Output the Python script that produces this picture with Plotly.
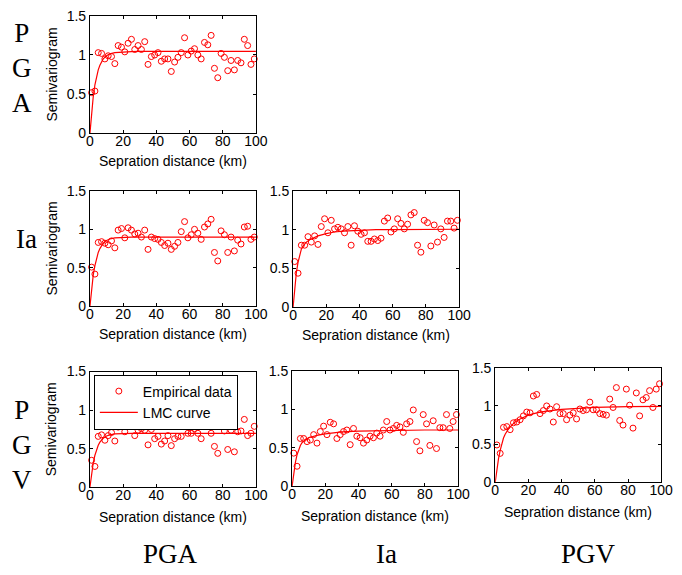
import plotly.graph_objects as go

W, H = 682, 575

# ---------------- data ----------------
dist = list(range(1, 100, 2))

pga_pga = [0.52, 0.54, 1.03, 1.02, 0.95, 0.99, 0.98, 0.89, 1.12, 1.10,
           1.04, 1.15, 1.20, 1.07, 1.12, 1.07, 1.17, 0.88, 0.98, 1.00,
           1.03, 0.92, 0.95, 0.95, 0.79, 0.91, 0.97, 1.03, 1.22, 1.00,
           1.05, 1.08, 1.00, 0.95, 1.16, 1.13, 1.25, 0.83, 0.71, 1.02,
           0.97, 0.80, 0.93, 0.81, 0.93, 0.90, 1.20, 1.12, 0.88, 0.95]
ia_pga = [0.51, 0.42, 0.83, 0.84, 0.82, 0.80, 0.85, 0.76, 0.99, 1.01,
          0.89, 1.02, 0.99, 0.94, 0.95, 0.90, 0.99, 0.74, 0.90, 0.88,
          0.87, 0.83, 0.79, 0.82, 0.74, 0.78, 0.83, 0.97, 1.10, 0.89,
          0.93, 1.00, 0.95, 0.87, 1.03, 1.07, 1.13, 0.70, 0.59, 0.98,
          0.93, 0.70, 0.90, 0.72, 0.86, 0.81, 1.03, 1.04, 0.87, 0.90]
ia_ia = [0.59, 0.44, 0.80, 0.80, 0.91, 0.84, 0.92, 0.81, 1.04, 1.14,
         0.96, 1.12, 1.01, 1.03, 1.01, 0.96, 1.04, 0.80, 1.05, 0.98,
         0.94, 0.96, 0.85, 0.85, 0.88, 0.86, 0.89, 1.11, 1.15, 0.97,
         1.01, 1.14, 1.08, 1.01, 1.07, 1.19, 1.22, 0.80, 0.71, 1.12,
         1.09, 0.79, 1.06, 0.84, 1.01, 0.90, 1.11, 1.11, 1.02, 1.12]
pgv_pga = [0.35, 0.27, 0.66, 0.68, 0.61, 0.67, 0.71, 0.60, 0.78, 0.80,
           0.72, 0.87, 0.89, 0.67, 0.74, 0.76, 0.74, 0.55, 0.75, 0.63,
           0.66, 0.56, 0.60, 0.67, 0.54, 0.63, 0.66, 0.66, 0.81, 0.70,
           0.70, 0.76, 0.70, 0.63, 0.82, 0.81, 0.70, 0.53, 0.44, 0.83,
           0.73, 0.49, 0.74, 0.46, 0.72, 0.73, 0.88, 0.67, 0.70, 0.79]
pgv_ia = [0.43, 0.26, 0.62, 0.62, 0.58, 0.60, 0.67, 0.56, 0.71, 0.78,
          0.67, 0.83, 0.81, 0.62, 0.67, 0.71, 0.73, 0.54, 0.75, 0.65,
          0.63, 0.56, 0.60, 0.65, 0.63, 0.69, 0.65, 0.73, 0.84, 0.73,
          0.75, 0.79, 0.77, 0.70, 0.81, 0.84, 0.99, 0.58, 0.46, 0.93,
          0.81, 0.53, 0.85, 0.49, 0.76, 0.76, 0.93, 0.75, 0.84, 0.93]
pgv_pgv = [0.49, 0.38, 0.72, 0.73, 0.69, 0.78, 0.79, 0.82, 0.87, 0.92,
           0.91, 1.13, 1.15, 0.90, 0.94, 1.00, 0.96, 0.79, 0.99, 0.90,
           0.90, 0.82, 0.88, 0.91, 0.83, 0.96, 0.94, 0.95, 1.05, 0.95,
           0.95, 0.90, 0.89, 0.88, 1.09, 0.98, 1.24, 0.81, 0.75, 1.22,
           1.01, 0.71, 1.17, 0.87, 1.08, 1.11, 1.20, 0.98, 1.22, 1.29]

curve_dist = [0, 1, 2, 3, 4, 5, 6, 8, 10, 12, 15, 20, 25, 30, 40, 50, 60, 80, 100]
c_pga_pga = [0, 0.27, 0.47, 0.62, 0.73, 0.81, 0.87, 0.95, 0.99, 1.015, 1.03, 1.04,
             1.044, 1.045, 1.045, 1.045, 1.045, 1.045, 1.045]
c_ia_pga = [0, 0.23, 0.41, 0.53, 0.63, 0.70, 0.75, 0.82, 0.855, 0.875, 0.89, 0.897,
            0.90, 0.90, 0.90, 0.90, 0.90, 0.90, 0.90]
c_ia_ia = [0, 0.25, 0.45, 0.58, 0.68, 0.75, 0.79, 0.84, 0.87, 0.89, 0.92, 0.95,
           0.97, 0.98, 0.99, 1.0, 1.0, 1.005, 1.005]
c_pgv_pga = [0, 0.18, 0.32, 0.415, 0.49, 0.545, 0.585, 0.635, 0.665, 0.68, 0.692, 0.698,
             0.70, 0.70, 0.70, 0.70, 0.70, 0.70, 0.70]
c_pgv_ia = [0, 0.17, 0.31, 0.41, 0.48, 0.53, 0.565, 0.605, 0.63, 0.645, 0.66, 0.68,
            0.695, 0.705, 0.715, 0.72, 0.725, 0.73, 0.73]
c_pgv_pgv = [0, 0.17, 0.31, 0.42, 0.51, 0.58, 0.63, 0.70, 0.75, 0.79, 0.83, 0.88,
             0.91, 0.93, 0.955, 0.97, 0.98, 0.99, 0.995]

x_ticks = [0, 20, 40, 60, 80, 100]
y_ticks = [0, 0.5, 1, 1.5]
y_tick_text = ["0", "0.5", "1", "1.5"]

row_labels = ["P<br>G<br>A", "Ia", "P<br>G<br>V"]
col_labels = ["PGA", "Ia", "PGV"]

# ---------------- layout (pixel boxes: left, right, top, bottom) ----------------
panels = [
    dict(emp=pga_pga, fit=c_pga_pga, box=(88, 258, 8, 129), ylab=True, legend=False),
    dict(emp=ia_pga, fit=c_ia_pga, box=(88, 258, 188, 307), ylab=True, legend=False),
    dict(emp=ia_ia, fit=c_ia_ia, box=(296, 466, 188, 308), ylab=False, legend=False),
    dict(emp=pgv_pga, fit=c_pgv_pga, box=(88, 258, 374, 493), ylab=True, legend=True),
    dict(emp=pgv_ia, fit=c_pgv_ia, box=(295, 465, 373, 492), ylab=False, legend=False),
    dict(emp=pgv_pgv, fit=c_pgv_pgv, box=(503, 673, 370, 488), ylab=False, legend=False),
]

RED = "#ff0000"
SANS = "Liberation Sans, Arial, sans-serif"
SERIF = "Liberation Serif, Times New Roman, serif"

fig = go.Figure()
layout = dict(width=W, height=H, margin=dict(l=0, r=0, t=0, b=0),
              paper_bgcolor="white", plot_bgcolor="white", showlegend=True)
annotations = []

for i, p in enumerate(panels, start=1):
    sfx = "" if i == 1 else str(i)
    xa, ya = "x" + sfx, "y" + sfx
    l, r, t, b = p["box"]
    fig.add_trace(go.Scatter(
        x=dist, y=p["emp"], mode="markers", xaxis=xa, yaxis=ya,
        name="Empirical data", showlegend=p["legend"],
        marker=dict(symbol="circle-open", size=6, color=RED, line=dict(width=1, color=RED)),
        cliponaxis=False))
    fig.add_trace(go.Scatter(
        x=curve_dist, y=p["fit"], mode="lines", xaxis=xa, yaxis=ya,
        name="LMC curve", showlegend=p["legend"],
        line=dict(color=RED, width=1.2)))
    common = dict(showline=True, linecolor="black", linewidth=1, mirror="ticks",
                  ticks="inside", ticklen=3, tickcolor="black", showgrid=False,
                  zeroline=False, tickfont=dict(family=SANS, size=14, color="black"))
    layout["xaxis" + sfx] = dict(domain=[l / W, r / W], anchor=ya, range=[0, 100],
                                 tickvals=x_ticks, ticklabelstandoff=-5, **common)
    layout["yaxis" + sfx] = dict(domain=[1 - b / H, 1 - t / H], anchor=xa, range=[0, 1.5],
                                 tickvals=y_ticks, ticktext=y_tick_text,
                                 ticklabelstandoff=0, **common)
    annotations.append(dict(text="Sepration distance (km)", xref=xa + " domain", yref=ya + " domain",
                            x=0.5, y=0, yshift=-28 if i < 4 else -30, showarrow=False,
                            xanchor="center", yanchor="middle",
                            font=dict(family=SANS, size=14, color="black")))
    if p["ylab"]:
        annotations.append(dict(text="Semivariogram", xref=xa + " domain", yref=ya + " domain",
                                x=0, y=0.5, xshift=-38, textangle=-90, showarrow=False,
                                xanchor="center", yanchor="middle",
                                font=dict(family=SANS, size=14, color="black")))

# row labels (left side) and column labels (bottom)
row_pos = [(18, 62), (23, 238), (18, 450)]
for txt, (px, py) in zip(row_labels, row_pos):
    annotations.append(dict(text=txt, xref="paper", yref="paper", x=px / W, y=1 - py / H,
                            showarrow=False, xanchor="center", yanchor="middle",
                            font=dict(family=SERIF, size=27, color="black")))
col_pos = [171, 392, 599]
for txt, px in zip(col_labels, col_pos):
    annotations.append(dict(text=txt, xref="paper", yref="paper", x=px / W, y=1 - 562 / H,
                            showarrow=False, xanchor="center", yanchor="middle",
                            font=dict(family=SERIF, size=27, color="black")))

layout["annotations"] = annotations
layout["legend"] = dict(x=92 / W, y=1 - 377 / H, xanchor="left", yanchor="top",
                        bgcolor="white", bordercolor="black", borderwidth=1,
                        font=dict(family=SANS, size=14, color="black"),
                        itemwidth=38, tracegroupgap=0)
fig.update_layout(**layout)
fig.write_html("out.html")
